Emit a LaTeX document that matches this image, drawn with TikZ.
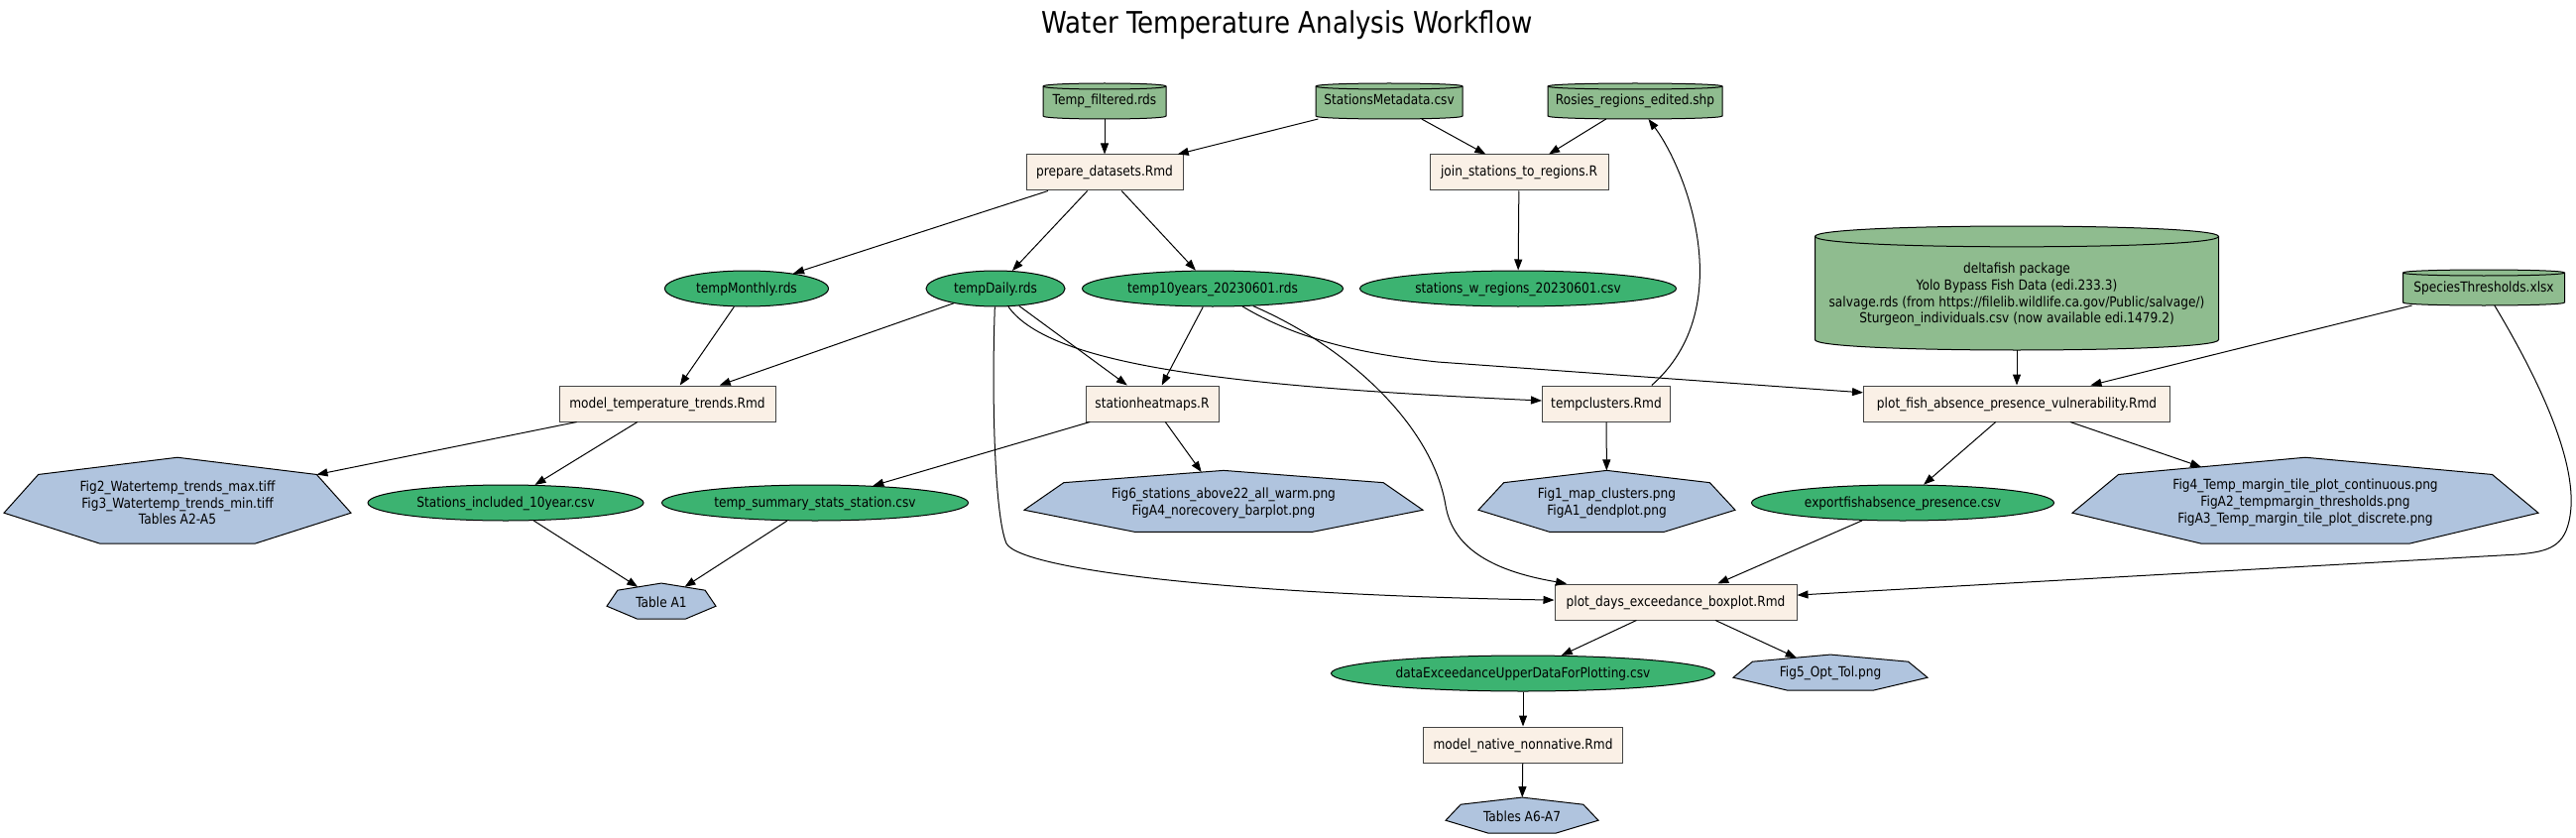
\documentclass[tikz,border=0pt]{standalone}
\usepackage{fontspec}
\setmainfont{DejaVu Sans}[FakeStretch=0.87]
\usetikzlibrary{shapes.geometric,arrows.meta}
\definecolor{cylfill}{HTML}{8FBC8F}
\definecolor{ellfill}{HTML}{3CB371}
\definecolor{boxfill}{HTML}{FAF0E6}
\definecolor{heptfill}{HTML}{B0C4DE}
\definecolor{boxline}{HTML}{444444}
\newcommand\zw[1]{\makebox[0pt][c]{#1}}
\newcommand\cylshape[4]{%
  \pgfmathsetmacro\cxl{#1-#3/2}%
  \pgfmathsetmacro\cxr{#1+#3/2}%
  \pgfmathsetmacro\cry{#4/12}%
  \pgfmathsetmacro\cyt{#2-#4/2+\cry}%
  \pgfmathsetmacro\cyb{#2+#4/2-\cry}%
  \pgfmathsetmacro\ck{4/3*\cry}%
  \filldraw[fill=cylfill, draw=black, line width=1pt] (\cxl,\cyt) -- (\cxl,\cyb) .. controls (\cxl,\cyb+\ck) and (\cxr,\cyb+\ck) .. (\cxr,\cyb) -- (\cxr,\cyt) .. controls (\cxr,\cyt-\ck) and (\cxl,\cyt-\ck) .. cycle;
  \draw[line width=1pt] (\cxl,\cyt) .. controls (\cxl,\cyt+\ck) and (\cxr,\cyt+\ck) .. (\cxr,\cyt);
}
\newcommand\hep[6]{%
  \begin{scope}[shift={(#2,#3)}]
    \node[hepta, xscale=#4/19.498, yscale=#5/19.01] (#1) at (0,0) {};
  \end{scope}
  \node[align=center, inner sep=0pt] (#1t) at (#2,#3) {#6};
}
\begin{document}
\begin{tikzpicture}[x=1pt, y=-1pt, font=\fontsize{14pt}{16.7pt}\selectfont,
  box/.style={rectangle, draw=boxline, line width=1pt, fill=boxfill, inner sep=0pt, minimum height=36pt, text height=10.5pt, text depth=2.5pt},
  ell/.style={ellipse, draw=black, line width=1pt, fill=ellfill, inner sep=0pt, minimum height=36pt, text height=10.5pt, text depth=2.5pt},
  cyl/.style={rectangle, draw=none, inner sep=0pt, outer sep=0pt, minimum height=36pt, text height=10.5pt, text depth=2.5pt},
  hepta/.style={regular polygon, regular polygon sides=7, draw=black, line width=1pt, fill=heptfill, minimum size=20pt, inner sep=0pt, outer sep=0pt},
  edge/.style={-{Triangle[length=11pt,width=8pt]}, line width=1pt, black}]
\useasboundingbox (0,0) rectangle (2598,845);
\fill[white] (0,0) rectangle (2598,845);

\node[font=\fontsize{30pt}{35pt}\selectfont] (title) at (1298,25) {Water Temperature Analysis Workflow};

% cylinders
\cylshape{1114}{102}{124}{36}
\node[cyl, minimum width=124pt] (tf) at (1114,102) {\zw{Temp\_filtered.rds}};
\cylshape{1401}{102}{148}{36}
\node[cyl, minimum width=148pt] (smeta) at (1401,102) {\zw{StationsMetadata.csv}};
\cylshape{1649}{102}{176}{36}
\node[cyl, minimum width=176pt] (rosies) at (1649,102) {\zw{Rosies\_regions\_edited.shp}};
\cylshape{2034}{290.5}{407}{125}
\node[cyl, minimum width=407pt, minimum height=125pt] (delta) at (2034,290.5) {};
\node[align=center, inner sep=0pt] (deltat) at (2034,297) {deltafish package\\Yolo Bypass Fish Data (edi.233.3)\\salvage.rds (from https://filelib.wildlife.ca.gov/Public/salvage/)\\Sturgeon\_individuals.csv (now available edi.1479.2)};
\cylshape{2505}{290}{163}{36}
\node[cyl, minimum width=163pt] (species) at (2505,290) {\zw{SpeciesThresholds.xlsx}};

% boxes
\node[box, minimum width=158pt] (prep) at (1114,174) {\zw{prepare\_datasets.Rmd}};
\node[box, minimum width=180pt] (join) at (1532,174) {\zw{join\_stations\_to\_regions.R}};
\node[box, minimum width=218pt] (mtt) at (673,407) {\zw{model\_temperature\_trends.Rmd}};
\node[box, minimum width=134pt] (shm) at (1162,407) {\zw{stationheatmaps.R}};
\node[box, minimum width=129pt] (tclus) at (1620,407) {\zw{tempclusters.Rmd}};
\node[box, minimum width=309pt] (pfish) at (2034,407) {\zw{plot\_fish\_absence\_presence\_vulnerability.Rmd}};
\node[box, minimum width=244pt] (pdays) at (1690,607) {\zw{plot\_days\_exceedance\_boxplot.Rmd}};
\node[box, minimum width=201pt] (mnat) at (1536,751) {\zw{model\_native\_nonnative.Rmd}};

% ellipses
\node[ell, minimum width=165pt] (tmon) at (753,291) {\zw{tempMonthly.rds}};
\node[ell, minimum width=140pt] (tdaily) at (1004,291) {\zw{tempDaily.rds}};
\node[ell, minimum width=263pt] (t10) at (1223,291) {\zw{temp10years\_20230601.rds}};
\node[ell, minimum width=319pt] (swr) at (1531,291) {\zw{stations\_w\_regions\_20230601.csv}};
\node[ell, minimum width=278pt] (sinc) at (510,507) {\zw{Stations\_included\_10year.csv}};
\node[ell, minimum width=309pt] (tsum) at (822,507) {\zw{temp\_summary\_stats\_station.csv}};
\node[ell, minimum width=305pt] (efish) at (1919,507) {\zw{exportfishabsence\_presence.csv}};
\node[ell, minimum width=387pt] (dexc) at (1536,679) {\zw{dataExceedanceUpperDataForPlotting.csv}};

% heptagons
\hep{fig2}{179}{507}{350}{87}{Fig2\_Watertemp\_trends\_max.tiff\\Fig3\_Watertemp\_trends\_min.tiff\\Tables A2-A5}
\hep{fig6}{1234}{507}{402}{62}{Fig6\_stations\_above22\_all\_warm.png\\FigA4\_norecovery\_barplot.png}
\hep{fig1}{1620.5}{507}{259}{62}{Fig1\_map\_clusters.png\\FigA1\_dendplot.png}
\hep{fig4}{2325}{507}{470}{87}{Fig4\_Temp\_margin\_tile\_plot\_continuous.png\\FigA2\_tempmargin\_thresholds.png\\FigA3\_Temp\_margin\_tile\_plot\_discrete.png}
\hep{taba1}{667}{607}{110}{36}{Table A1}
\hep{fig5}{1846}{679}{196}{36}{Fig5\_Opt\_Tol.png}
\hep{taba6}{1535}{823}{154}{36}{Tables A6-A7}

% edges
\draw[edge] (tf) -- (prep);
\draw[edge] (smeta) -- (prep);
\draw[edge] (smeta) -- (join);
\draw[edge] (rosies) -- (join);
\draw[edge] (prep) -- (tmon);
\draw[edge] (prep) -- (tdaily);
\draw[edge] (prep) -- (t10);
\draw[edge] (join) -- (swr);
\draw[edge] (tmon) -- (mtt);
\draw[edge] (tdaily) -- (mtt);
\draw[edge] (tdaily) -- (shm);
\draw[edge] (tdaily) .. controls (1060,370) and (1250,390) .. (tclus);
\draw[edge] (tdaily) .. controls (1000,400) and (1003,520) .. (1015,548) .. controls (1030,575) and (1250,600) .. (pdays);
\draw[edge] (t10) -- (shm);
\draw[edge] (t10) .. controls (1360,350) and (1445,430) .. (1458,510) .. controls (1465,550) and (1500,575) .. (pdays);
\draw[edge] (t10) .. controls (1305,340) and (1365,356) .. (1450,365) -- (pfish);
\draw[edge] (tclus.22) .. controls (1755,310) and (1700,170) .. (rosies);
\draw[edge] (shm) -- (tsum);
\draw[edge] (shm) -- (fig6);
\draw[edge] (tclus) -- (fig1);
\draw[edge] (mtt) -- (fig2);
\draw[edge] (mtt) -- (sinc);
\draw[edge] (sinc) -- (taba1);
\draw[edge] (tsum) -- (taba1);
\draw[edge] (delta) -- (pfish);
\draw[edge] (species) -- (pfish);
\draw[edge] (species) .. controls (2565,390) and (2600,470) .. (2592,520) .. controls (2587,552) and (2570,556) .. (2540,559) -- (pdays);
\draw[edge] (pfish) -- (efish);
\draw[edge] (pfish) -- (fig4);
\draw[edge] (efish) -- (pdays);
\draw[edge] (pdays) -- (dexc);
\draw[edge] (pdays) -- (fig5);
\draw[edge] (dexc) -- (mnat);
\draw[edge] (mnat) -- (taba6);
\end{tikzpicture}
\end{document}
